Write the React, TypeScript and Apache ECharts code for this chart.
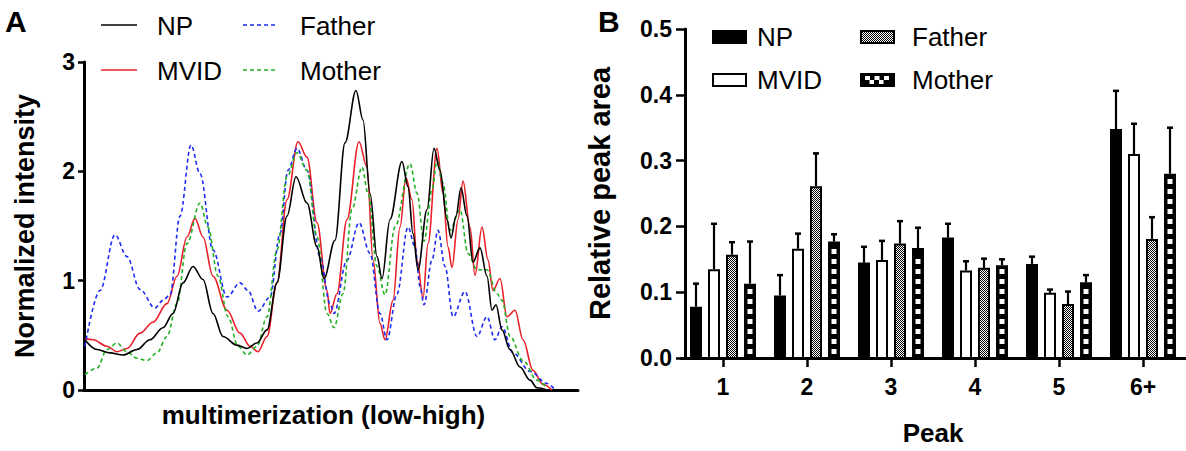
import React, { useEffect, useRef } from "react";
import * as echarts from "echarts";

// ---------- Panel A: intensity profiles [position (low -> high), normalized intensity]
const npCurve: [number, number][] = [
  [1, 0.46], [13, 0.37], [26, 0.34], [39, 0.32], [53, 0.37], [66, 0.46], [79, 0.57], [89, 0.7],
  [99, 0.98], [109, 1.13], [119, 1.01], [129, 0.7], [139, 0.49], [153, 0.41], [163, 0.38], [173, 0.43],
  [183, 0.55], [193, 0.98], [203, 1.59], [212, 1.95], [223, 1.71], [233, 1.31], [240, 1.02], [251, 1.37],
  [261, 2.26], [272, 2.74], [279, 2.47], [286, 1.8], [293, 1.22], [298, 1.02], [306, 1.56], [318, 2.09],
  [324, 1.86], [329, 1.43], [334, 1.1], [343, 1.65], [350, 2.21], [356, 2.01], [363, 1.56], [367, 1.39],
  [372, 1.59], [377, 1.85], [383, 1.59], [389, 1.17], [396, 1.3], [403, 1.04], [408, 0.73], [412, 0.78],
  [418, 0.55], [426, 0.37], [436, 0.21], [446, 0.09], [453, 0.02], [463, 0],
];
const mvidCurve: [number, number][] = [
  [1, 0.47], [9, 0.46], [23, 0.4], [33, 0.35], [43, 0.38], [56, 0.52], [69, 0.62], [83, 0.79],
  [93, 1.04], [103, 1.4], [111, 1.57], [119, 1.4], [129, 1.04], [143, 0.73], [156, 0.52], [166, 0.4],
  [174, 0.35], [183, 0.49], [193, 0.98], [203, 1.74], [214, 2.27], [223, 2.13], [233, 1.53], [243, 0.91],
  [246, 0.7], [253, 0.88], [263, 1.56], [275, 2.27], [283, 2.04], [289, 1.19], [296, 0.61], [301, 0.46],
  [309, 0.82], [316, 1.49], [322, 1.94], [328, 1.74], [333, 1.19], [339, 0.84], [344, 1.34], [353, 2.21],
  [359, 1.8], [364, 1.31], [368, 1.12], [374, 1.56], [379, 1.91], [386, 1.49], [391, 1.05], [398, 1.49],
  [404, 1.19], [409, 0.91], [416, 1.02], [423, 0.67], [431, 0.73], [439, 0.46], [449, 0.18], [459, 0.05],
  [468, 0],
];
const fatherCurve: [number, number][] = [
  [1, 0.4], [16, 0.91], [31, 1.42], [43, 1.22], [56, 0.92], [71, 0.75], [79, 0.82], [86, 0.87],
  [96, 1.59], [107, 2.24], [116, 1.98], [129, 1.28], [143, 0.85], [156, 0.98], [164, 0.91], [174, 0.72],
  [186, 0.85], [196, 1.43], [204, 2.01], [213, 2.21], [223, 2.01], [236, 1.22], [246, 0.79], [250, 0.7],
  [263, 1.19], [275, 1.53], [286, 1.25], [296, 0.7], [303, 0.46], [313, 0.88], [324, 1.49], [331, 1.31],
  [336, 0.95], [340, 0.78], [348, 1.19], [354, 1.46], [361, 1.13], [369, 0.67], [381, 0.9], [393, 0.49],
  [403, 0.67], [411, 0.46], [418, 0.58], [429, 0.34], [446, 0.17], [463, 0.06], [471, 0],
];
const motherCurve: [number, number][] = [
  [1, 0.14], [13, 0.2], [23, 0.37], [33, 0.43], [43, 0.35], [53, 0.29], [63, 0.27], [73, 0.34],
  [83, 0.49], [93, 0.79], [103, 1.34], [116, 1.71], [124, 1.49], [134, 1.04], [144, 0.67], [154, 0.4],
  [163, 0.32], [173, 0.4], [183, 0.67], [193, 1.28], [203, 1.95], [213, 2.17], [223, 2.01], [233, 1.4],
  [243, 0.7], [250, 0.57], [259, 0.88], [268, 1.65], [278, 2.04], [284, 1.8], [293, 1.13], [301, 0.87],
  [311, 1.49], [326, 2.07], [333, 1.8], [340, 1.36], [348, 1.83], [353, 2.1], [359, 1.89], [366, 1.46],
  [376, 1.65], [384, 1.25], [393, 1.1], [403, 1.1], [413, 0.88], [418, 0.82], [426, 0.49], [439, 0.27],
  [453, 0.09], [463, 0.02],
];

// ---------- Panel B: relative peak area (mean, SEM)
const peakLabels = ["1", "2", "3", "4", "5", "6+"];
const npArea = [0.078, 0.095, 0.145, 0.183, 0.143, 0.348];
const npSem = [0.035, 0.031, 0.024, 0.021, 0.011, 0.058];
const mvidArea = [0.135, 0.166, 0.149, 0.133, 0.099, 0.31];
const mvidSem = [0.069, 0.023, 0.029, 0.014, 0.005, 0.046];
const fatherArea = [0.157, 0.261, 0.174, 0.137, 0.082, 0.181];
const fatherSem = [0.019, 0.05, 0.034, 0.014, 0.019, 0.033];
const motherArea = [0.113, 0.177, 0.167, 0.141, 0.115, 0.28];
const motherSem = [0.064, 0.011, 0.031, 0.009, 0.011, 0.07];

const FONT = "'Liberation Sans', Arial, Helvetica, sans-serif";
const lineColors = ["#000000", "#e8202a", "#1c2cf0", "#22b022"];

function makeFinePattern(): any {
  const c = document.createElement("canvas");
  c.width = 2;
  c.height = 2;
  const ctx = c.getContext("2d")!;
  ctx.fillStyle = "#ffffff";
  ctx.fillRect(0, 0, 2, 2);
  ctx.fillStyle = "#000000";
  ctx.fillRect(0, 0, 1, 1);
  ctx.fillRect(1, 1, 1, 1);
  return { image: c.toDataURL(), repeat: "repeat", imageWidth: 2, imageHeight: 2 };
}

const BAR_STEP = 18;
const BAR_HALF = 5;

function squaresColumn(cx: number, yTop: number, yBottom: number): any[] {
  const out: any[] = [];
  let y = yBottom - 4 - 5;
  while (y > yTop + 2) {
    out.push({
      type: "rect",
      shape: { x: cx - 2.5, y, width: 5, height: 5 },
      style: { fill: "#ffffff" },
    });
    y -= 10;
  }
  return out;
}

export default function App() {
  const ref = useRef<HTMLDivElement>(null);

  useEffect(() => {
    if (!ref.current) return;
    document.body.style.margin = "0";
    const chart = echarts.init(ref.current, null, { renderer: "svg" });
    const fine = makeFinePattern();
    const kinds = ["solid", "open", "fine", "squares"];

    const makeRender = (k: number) => (params: any, api: any) => {
      const ci = api.value(0);
      const v = api.value(1);
      const e = api.value(2);
      const base = api.coord([ci, 0]);
      const top = api.coord([ci, v]);
      const errTop = api.coord([ci, v + e]);
      const cx = base[0] + (k - 1.5) * BAR_STEP;
      const kind = kinds[k];
      const children: any[] = [];
      children.push({
        type: "line",
        shape: { x1: cx, y1: top[1], x2: cx, y2: errTop[1] },
        style: { stroke: "#000", lineWidth: 2.2 },
      });
      children.push({
        type: "line",
        shape: { x1: cx - 3, y1: errTop[1], x2: cx + 3, y2: errTop[1] },
        style: { stroke: "#000", lineWidth: 2.5 },
      });
      const fill = kind === "solid" || kind === "squares" ? "#000" : kind === "open" ? "#fff" : fine;
      children.push({
        type: "rect",
        shape: { x: cx - BAR_HALF, y: top[1] + 1, width: BAR_HALF * 2, height: base[1] - top[1] - 1 },
        style: { fill, stroke: "#000", lineWidth: 2 },
      });
      if (kind === "squares") {
        children.push(...squaresColumn(cx, top[1], base[1]));
      }
      return { type: "group", children };
    };

    const barSets = [
      { name: "NP", area: npArea, sem: npSem },
      { name: "MVID", area: mvidArea, sem: mvidSem },
      { name: "Father", area: fatherArea, sem: fatherSem },
      { name: "Mother", area: motherArea, sem: motherSem },
    ];

    const curves = [
      { name: "NP", data: npCurve, dashed: false },
      { name: "MVID", data: mvidCurve, dashed: false },
      { name: "Father", data: fatherCurve, dashed: true },
      { name: "Mother", data: motherCurve, dashed: true },
    ];

    const axisLine = { show: true, lineStyle: { color: "#000", width: 3 } };
    const tickLabel = { color: "#000", fontSize: 23, fontWeight: "bold" as const, fontFamily: FONT };
    const titleStyle = { color: "#000", fontSize: 26, fontWeight: "bold" as const, fontFamily: FONT };
    const legendText = (x: number, y: number, t: string) => ({
      type: "text",
      x,
      y,
      style: { text: t, font: `26px ${FONT}`, fill: "#000", textVerticalAlign: "middle" },
    });

    const legendRect = (x: number, y: number, kind: string): any => {
      const w = 33;
      const h = 12;
      const fill = kind === "solid" || kind === "squares" ? "#000" : kind === "open" ? "#fff" : fine;
      const children: any[] = [
        { type: "rect", shape: { x, y, width: w, height: h }, style: { fill, stroke: "#000", lineWidth: 2 } },
      ];
      if (kind === "squares") {
        for (let i = 0; i < 3; i++) {
          children.push({
            type: "rect",
            shape: { x: x + 4 + i * 9.5, y: y + 2, width: 5, height: 4 },
            style: { fill: "#fff" },
          });
          children.push({
            type: "rect",
            shape: { x: x + 8.5 + i * 9.5, y: y + 6, width: 4.5, height: 4 },
            style: { fill: i < 2 ? "#fff" : "#000" },
          });
        }
      }
      return { type: "group", children };
    };

    const option: any = {
      animation: false,
      textStyle: { fontFamily: FONT },
      grid: [
        { left: 84, top: 62, width: 494, height: 328 },
        { left: 681, top: 29, width: 504, height: 331 },
      ],
      xAxis: [
        {
          gridIndex: 0,
          type: "value",
          min: 0,
          max: 494,
          axisLine,
          axisTick: { show: false },
          axisLabel: { show: false },
          splitLine: { show: false },
          name: "multimerization (low-high)",
          nameLocation: "middle",
          nameGap: 12,
          nameTextStyle: { ...titleStyle, padding: [0, 15, 0, 0] },
        },
        {
          gridIndex: 1,
          type: "category",
          data: peakLabels,
          axisLine,
          axisTick: { show: true, alignWithLabel: true, length: 9, lineStyle: { color: "#000", width: 2.5 } },
          axisLabel: { ...tickLabel, margin: 17 },
          splitLine: { show: false },
          name: "Peak",
          nameLocation: "middle",
          nameGap: 62,
          nameTextStyle: titleStyle,
        },
      ],
      yAxis: [
        {
          gridIndex: 0,
          type: "value",
          min: 0,
          max: 3,
          interval: 1,
          axisLine,
          axisTick: { show: true, length: 6, lineStyle: { color: "#000", width: 2.5 } },
          axisLabel: { ...tickLabel, margin: 9 },
          splitLine: { show: false },
          name: "Normalized intensity",
          nameLocation: "middle",
          nameGap: 46,
          nameRotate: 90,
          nameTextStyle: { ...titleStyle, fontSize: 27 },
        },
        {
          gridIndex: 1,
          type: "value",
          min: 0,
          max: 0.5,
          interval: 0.1,
          offset: -4,
          axisLine,
          axisTick: { show: true, length: 9, lineStyle: { color: "#000", width: 2.5 } },
          axisLabel: { ...tickLabel, margin: 13, formatter: (v: number) => v.toFixed(1) },
          splitLine: { show: false },
          name: "Relative peak area",
          nameLocation: "middle",
          nameGap: 71,
          nameRotate: 90,
          nameTextStyle: { ...titleStyle, fontSize: 29 },
        },
      ],
      series: [
        ...curves.map((c, i) => ({
          type: "line",
          name: c.name,
          xAxisIndex: 0,
          yAxisIndex: 0,
          data: c.data,
          showSymbol: false,
          symbol: "none",
          smooth: 0.35,
          smoothMonotone: "x",
          lineStyle: { color: lineColors[i], width: 1.6, type: c.dashed ? [4, 3] : "solid" },
          z: i === 0 ? 6 : 5,
        })),
        ...barSets.map((b, k) => ({
          type: "custom",
          name: b.name,
          xAxisIndex: 1,
          yAxisIndex: 1,
          data: peakLabels.map((_, i) => [i, b.area[i], b.sem[i]]),
          encode: { x: 0, y: 1 },
          renderItem: makeRender(k),
          clip: false,
          z: 3,
        })),
      ],
      graphic: [
        { type: "text", x: 5, y: 21, style: { text: "A", font: `bold 30px ${FONT}`, fill: "#000", textVerticalAlign: "middle" } },
        { type: "text", x: 598, y: 21, style: { text: "B", font: `bold 30px ${FONT}`, fill: "#000", textVerticalAlign: "middle" } },
        { type: "line", shape: { x1: 101, y1: 25, x2: 137, y2: 25 }, style: { stroke: lineColors[0], lineWidth: 1.6 } },
        legendText(157, 26, "NP"),
        { type: "line", shape: { x1: 101, y1: 70, x2: 137, y2: 70 }, style: { stroke: lineColors[1], lineWidth: 1.6 } },
        legendText(157, 71, "MVID"),
        { type: "line", shape: { x1: 243, y1: 25, x2: 278, y2: 25 }, style: { stroke: lineColors[2], lineWidth: 1.6, lineDash: [4, 3] } },
        legendText(300, 26, "Father"),
        { type: "line", shape: { x1: 243, y1: 70, x2: 278, y2: 70 }, style: { stroke: lineColors[3], lineWidth: 1.6, lineDash: [4, 3] } },
        legendText(300, 71, "Mother"),
        legendRect(713, 31, "solid"),
        legendText(757, 37, "NP"),
        legendRect(713, 74, "open"),
        legendText(757, 80, "MVID"),
        legendRect(861, 31, "fine"),
        legendText(912, 37, "Father"),
        legendRect(861, 74, "squares"),
        legendText(912, 80, "Mother"),
      ],
    };

    chart.setOption(option);
    return () => chart.dispose();
  }, []);

  return <div ref={ref} style={{ width: 1186, height: 451 }} />;
}
